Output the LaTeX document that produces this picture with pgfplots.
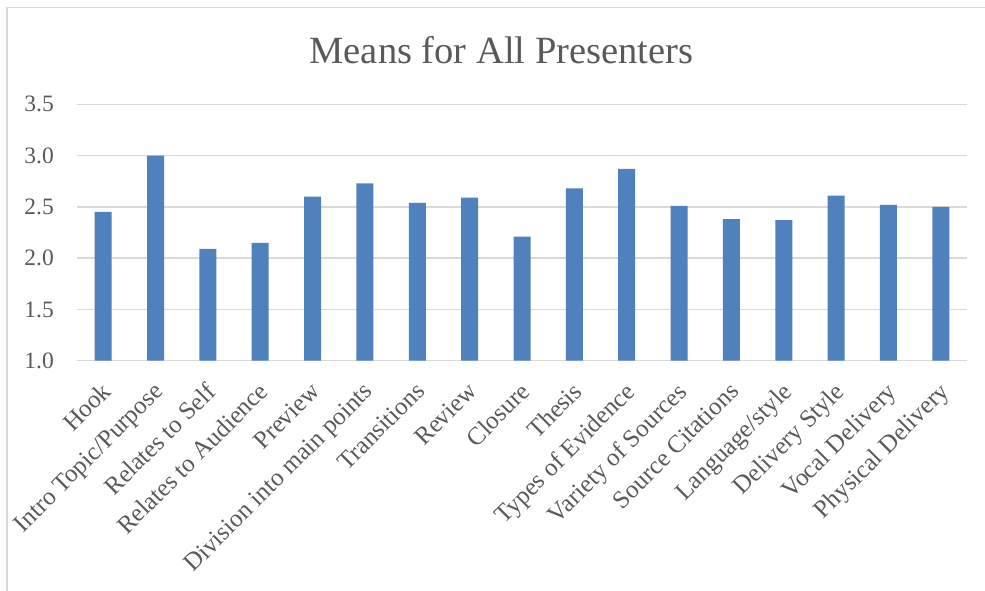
\documentclass[border=0pt]{standalone}
\usepackage{fontspec}
\setmainfont{Liberation Serif}
\usepackage{pgfplots}
\pgfplotsset{compat=1.18}
\definecolor{txt}{HTML}{595959}
\definecolor{gridc}{HTML}{D9D9D9}
\definecolor{barc}{HTML}{4F81BD}
\begin{document}
\begin{tikzpicture}[x=1pt,y=1pt]
\useasboundingbox (0,0) rectangle (985,591);
\begin{scope}
\clip (7.8,0) rectangle (985,583.5);
\begin{axis}[
  at={(77pt,230.3pt)}, anchor=south west,
  scale only axis, width=890pt, height=256.4pt,
  xmin=-0.5, xmax=16.5, ymin=1, ymax=3.5,
  ytick={1,1.5,2,2.5,3,3.5},
  xtick={0,...,16},
  xticklabels={Hook,Intro Topic/Purpose,Relates to Self,Relates to Audience,Preview,Division into main points,Transitions,Review,Closure,Thesis,Types of Evidence,Variety of Sources,Source Citations,Language/style,Delivery Style,Vocal Delivery,Physical Delivery},
  /pgf/number format/assume math mode=true,
  yticklabel style={/pgf/number format/.cd,fixed,fixed zerofill,precision=1,/tikz/.cd},
  yticklabel style={font=\fontsize{23.5}{27}\selectfont, text=txt, anchor=east, inner sep=0pt, xshift=-23pt},
  xticklabel style={font=\fontsize{25}{29}\selectfont, text=txt, anchor=north east, inner sep=0pt, xshift=-3pt, yshift=-20pt, rotate=45},
  major tick length=0pt,
  axis line style={draw=none},
  ymajorgrids, xmajorgrids=false,
  major grid style={gridc, line width=1.3pt},
  clip=false,
]
\addplot[ybar, bar width=17pt, fill=barc, draw=none] coordinates {
 (0,2.45) (1,3.00) (2,2.09) (3,2.15) (4,2.60) (5,2.73) (6,2.54) (7,2.59)
 (8,2.21) (9,2.68) (10,2.87) (11,2.51) (12,2.38) (13,2.37) (14,2.61)
 (15,2.52) (16,2.50)};
\end{axis}
\end{scope}
\node[anchor=base, text=txt, font=\fontsize{38.5}{44}\selectfont, inner sep=0pt] at (501.5,527.7) {Means for All Presenters};
\draw[gridc, line width=1.3pt] (7,0) -- (7,583.5) -- (985,583.5);
\end{tikzpicture}
\end{document}
